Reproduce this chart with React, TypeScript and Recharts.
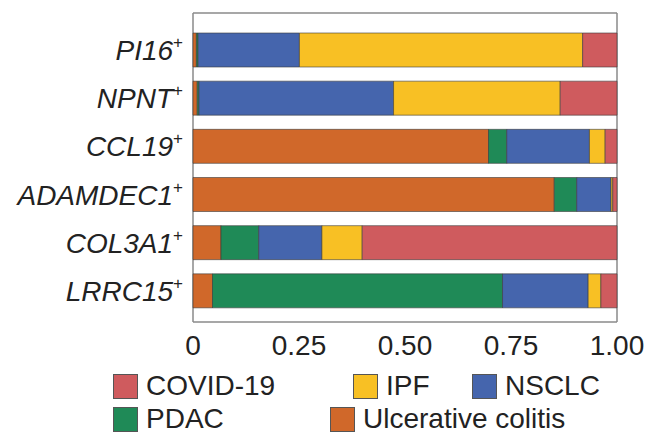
import { BarChart, Bar, XAxis, YAxis, CartesianGrid, Legend } from "recharts"

// gene module labels (each gets a superscript "+")
const categories = ["PI16", "NPNT", "CCL19", "ADAMDEC1", "COL3A1", "LRRC15"]

// fraction per disease, stacked left to right
const ulcerativeColitis = [0.008, 0.01, 0.697, 0.852, 0.066, 0.046]
const pdac = [0.004, 0.004, 0.043, 0.053, 0.089, 0.684]
const nsclc = [0.239, 0.459, 0.195, 0.081, 0.149, 0.202]
const ipf = [0.668, 0.393, 0.037, 0.004, 0.095, 0.03]
const covid = [0.081, 0.134, 0.028, 0.01, 0.601, 0.038]

const xTicks = [0, 0.25, 0.5, 0.75, 1]

const series = [
  { key: "uc", name: "Ulcerative colitis", color: "#d0682a", values: ulcerativeColitis },
  { key: "pdac", name: "PDAC", color: "#1f8a57", values: pdac },
  { key: "nsclc", name: "NSCLC", color: "#4565ad", values: nsclc },
  { key: "ipf", name: "IPF", color: "#f8c024", values: ipf },
  { key: "covid", name: "COVID-19", color: "#cf5b5e", values: covid },
]

const data = categories.map((name, i) => {
  const row: any = { name }
  series.forEach((s) => (row[s.key] = s.values[i]))
  return row
})

const font = '"Liberation Sans", Arial, sans-serif'

const GeneTick = (props: any) => {
  const { x, y, payload } = props
  return (
    <text x={x} y={y} dy={10} textAnchor="end" fontSize={28} fontStyle="italic" fill="#222" fontFamily={font}>
      {payload.value}
      <tspan fontSize={17} dy={-12} fontStyle="normal">+</tspan>
    </text>
  )
}

// legend rows as laid out in the figure
const legendRows = [
  [
    { name: "COVID-19", left: 113 },
    { name: "IPF", left: 353 },
    { name: "NSCLC", left: 472 },
  ],
  [
    { name: "PDAC", left: 113 },
    { name: "Ulcerative colitis", left: 330 },
  ],
]

const CustomLegend = () => (
  <div style={{ position: "relative", width: 646, height: 70, fontFamily: font, fontSize: 28, color: "#222" }}>
    {legendRows.map((row, r) =>
      row.map((item) => {
        const s = series.find((x) => x.name === item.name)!
        return (
          <div
            key={item.name}
            style={{ position: "absolute", left: item.left, top: r * 33, display: "flex", alignItems: "center", height: 30 }}
          >
            <span
              style={{
                width: 25,
                height: 25,
                background: s.color,
                border: "1px solid #555",
                marginRight: 8,
                boxSizing: "border-box",
              }}
            />
            <span style={{ lineHeight: "30px" }}>{item.name}</span>
          </div>
        )
      })
    )}
  </div>
)

export default function App() {
  return (
    <div style={{ position: "absolute", left: 0, top: 0, background: "#fff" }}>
      <BarChart
        width={646}
        height={440}
        data={data}
        layout="vertical"
        margin={{ top: 13, right: 29, left: 0, bottom: 88 }}
        barSize={34}
      >
        <CartesianGrid
          stroke="#8a8a8a"
          strokeWidth={1.5}
          horizontalCoordinatesGenerator={({ offset }: any) => [offset.top, offset.top + offset.height]}
          verticalCoordinatesGenerator={({ offset }: any) => [offset.left, offset.left + offset.width]}
        />
        <XAxis
          type="number"
          domain={[0, 1]}
          ticks={xTicks}
          tickFormatter={(v: number) => (v === 0 ? "0" : v.toFixed(2))}
          axisLine={false}
          tickLine={false}
          tickSize={0}
          tickMargin={13}
          height={30}
          tick={{ fill: "#222", fontSize: 28, fontFamily: font }}
        />
        <YAxis
          type="category"
          dataKey="name"
          width={193}
          axisLine={false}
          tickLine={false}
          tickSize={0}
          tickMargin={10}
          padding={{ top: 13, bottom: 7 }}
          tick={<GeneTick />}
          interval={0}
        />
        <Legend
          verticalAlign="middle"
          align="center"
          layout="horizontal"
          content={<CustomLegend />}
          wrapperStyle={{ top: 371, left: 0, width: 646 }}
        />
        {series.map((s) => (
          <Bar
            key={s.key}
            dataKey={s.key}
            name={s.name}
            stackId="a"
            fill={s.color}
            stroke="#3a3a3a"
            strokeWidth={0.6}
            isAnimationActive={false}
          />
        ))}
      </BarChart>
    </div>
  )
}
